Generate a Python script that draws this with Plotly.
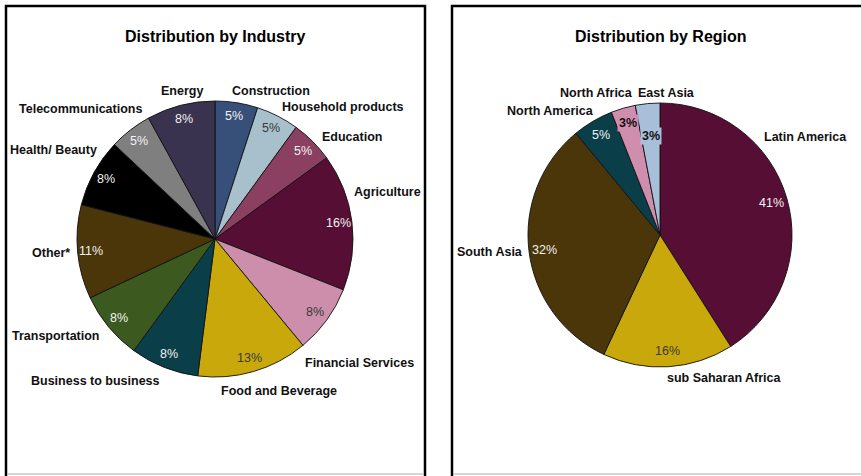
import math
import plotly.graph_objects as go

W, H = 861, 476

# ---- data -------------------------------------------------------------
industry_labels = [
    "Construction", "Household products", "Education", "Agriculture",
    "Financial Services", "Food and Beverage", "Business to business",
    "Transportation", "Other*", "Health/ Beauty", "Telecommunications", "Energy",
]
industry_values = [5, 5, 5, 16, 8, 13, 8, 8, 11, 8, 5, 8]

region_labels = [
    "Latin America", "sub Saharan Africa", "South Asia",
    "North America", "North Africa", "East Asia",
]
region_values = [41, 16, 32, 5, 3, 3]

# ---- styling ----------------------------------------------------------
industry_colors = [
    "#37507a", "#a8c0cc", "#8b4062", "#560e35", "#cc8eaa", "#c8a80a",
    "#0a3e48", "#3c5a1f", "#4a3608", "#000000", "#7f7f7f", "#3a3350",
]
region_colors = ["#560e35", "#c8a80a", "#4a3608", "#0a3e48", "#d08eae", "#a9bfd9"]

FONT = "Liberation Sans, Arial, sans-serif"

# pie geometry in pixels: centre x, centre y, radius
IND_PIE = (215, 239, 138)
REG_PIE = (660, 235, 132)

# category-name placement (pixel centre of each text)
industry_name_pos = {
    "Energy": (182, 91), "Construction": (271, 91),
    "Household products": (343, 107), "Education": (352, 137),
    "Agriculture": (387, 192), "Financial Services": (359, 363),
    "Food and Beverage": (279, 391), "Business to business": (95, 381),
    "Transportation": (56, 336), "Other*": (51, 253),
    "Health/ Beauty": (53, 150), "Telecommunications": (80, 109),
}
region_name_pos = {
    "Latin America": (805, 137), "sub Saharan Africa": (724, 378),
    "South Asia": (490, 252), "North America": (550, 111),
    "North Africa": (596, 93), "East Asia": (666, 93),
}
# radial position of the percentage text, as a share of the radius
region_pct_radius = {"East Asia": 0.75}
boxed_pct = {"North Africa", "East Asia"}


def px(x, y):
    return x / W, 1 - y / H


def domain(geom):
    cx, cy, r = geom
    return dict(x=[(cx - r) / W, (cx + r) / W], y=[1 - (cy + r) / H, 1 - (cy - r) / H])


def luminance(hexcol):
    h = hexcol.lstrip("#")
    r, g, b = (int(h[i:i + 2], 16) / 255 for i in (0, 2, 4))
    return 0.299 * r + 0.587 * g + 0.114 * b


def label(x, y, text, size, color, **extra):
    xp, yp = px(x, y)
    return dict(x=xp, y=yp, text=text, showarrow=False, xref="paper", yref="paper",
                xanchor="center", yanchor="middle",
                font=dict(family=FONT, size=size, color=color), **extra)


def pie_trace(labels, values, colors, geom):
    return go.Pie(
        labels=labels, values=values, sort=False, direction="clockwise",
        rotation=0, textinfo="none", hoverinfo="skip",
        marker=dict(colors=colors, line=dict(color="#111111", width=0.9)),
        domain=domain(geom), showlegend=False,
    )


def pct_annotations(labels, values, colors, geom, default_r, radius_map=None, boxed=()):
    cx, cy, R = geom
    total = sum(values)
    cum = 0
    out = []
    for lab, val, col in zip(labels, values, colors):
        theta = math.radians(360 * (cum + val / 2) / total)
        cum += val
        k = (radius_map or {}).get(lab, default_r)
        x = cx + k * R * math.sin(theta)
        y = cy - k * R * math.cos(theta)
        text = f"{round(100 * val / total)}%"
        if lab in boxed:
            out.append(label(x, y, f"<b>{text}</b>", 12.5, "#111111",
                             bgcolor=col, borderpad=1))
        else:
            tc = "#3a3a3a" if luminance(col) > 0.55 else "#f2f2f2"
            out.append(label(x, y, text, 12.5, tc))
    return out


def name_annotations(pos):
    return [label(x, y, f"<b>{lab}</b>", 12.5, "#111111") for lab, (x, y) in pos.items()]


fig = go.Figure()
fig.add_trace(pie_trace(industry_labels, industry_values, industry_colors, IND_PIE))
fig.add_trace(pie_trace(region_labels, region_values, region_colors, REG_PIE))

annotations = [
    label(215, 37, "<b>Distribution by Industry</b>", 16, "#000000"),
    label(661, 37, "<b>Distribution by Region</b>", 16, "#000000"),
]
annotations += pct_annotations(industry_labels, industry_values, industry_colors, IND_PIE, 0.9)
annotations += pct_annotations(region_labels, region_values, region_colors, REG_PIE, 0.88,
                               region_pct_radius, boxed_pct)
annotations += name_annotations(industry_name_pos)
annotations += name_annotations(region_name_pos)

# panel frames
shapes = []
for x0, x1 in [(6, 425), (452, 880)]:
    shapes.append(dict(type="rect", xref="paper", yref="paper",
                       x0=x0 / W, x1=x1 / W, y0=1 - 6 / H, y1=1 - 490 / H,
                       line=dict(color="#000000", width=2.5)))
    shapes.append(dict(type="line", xref="paper", yref="paper",
                       x0=(x0 + 2) / W, x1=min(x1 - 2, W) / W,
                       y0=1 - 474 / H, y1=1 - 474 / H,
                       line=dict(color="#c8c8c8", width=1.5)))

fig.update_layout(
    width=W, height=H, margin=dict(l=0, r=0, t=0, b=0),
    paper_bgcolor="white", plot_bgcolor="white",
    annotations=annotations, shapes=shapes,
)

fig.write_html("out.html")
